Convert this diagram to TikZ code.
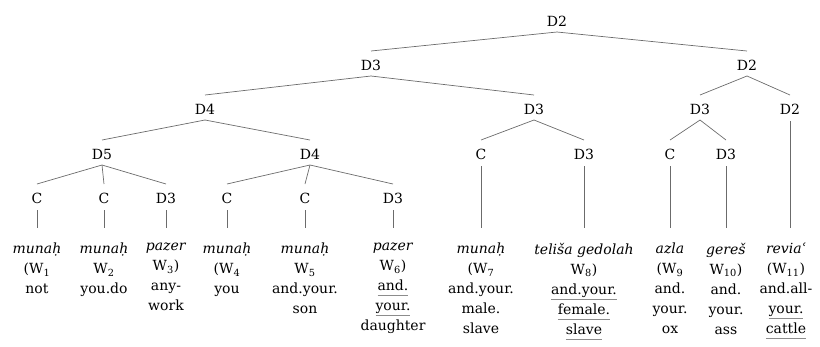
\documentclass[tikz,border=0pt]{standalone}
\usepackage{fontspec}
\setmainfont{DejaVu Serif}
\definecolor{edgegray}{gray}{0.42}
\definecolor{ulgray}{gray}{0.55}
% gray underline used for the marked glosses
\newcommand\ulx[1]{\setbox0=\hbox{#1}\leavevmode\rlap{\textcolor{ulgray}{\rule[-5.2pt]{\wd0}{0.8pt}}}\box0}
\tikzset{
  cat/.style={font=\fontsize{14}{20}\selectfont, inner sep=0pt},
  leaf/.style={font=\fontsize{14}{20}\selectfont, align=center, anchor=north, inner sep=0pt},
  edge/.style={draw=edgegray, line width=0.7pt},
}
% branch from a category label down to a daughter label
\newcommand\link[2]{\draw[edge] ([yshift=-11pt]#1.center) -- ([yshift=14pt]#2.center);}
% vertical stem from a pre-terminal label down to its word
\newcommand\stem[2]{\draw[edge] ([yshift=-12pt]#1.center) -- ([yshift=15pt]#1.center |- #2.north);}
\begin{document}
\begin{tikzpicture}[x=1pt,y=-1pt]
\useasboundingbox (0,0) rectangle (820,346);
% category labels
\node[cat] (root) at (557,21) {D2};
\node[cat] (d3a) at (371,65) {D3};
\node[cat] (d2a) at (747,65) {D2};
\node[cat] (d4a) at (205,109) {D4};
\node[cat] (d3b) at (534,109) {D3};
\node[cat] (d3c) at (700,109) {D3};
\node[cat] (d2b) at (790,109) {D2};
\node[cat] (d5) at (102,154) {D5};
\node[cat] (d4b) at (310,154) {D4};
\node[cat] (c7) at (481,154) {C};
\node[cat] (d38) at (584,154) {D3};
\node[cat] (c9) at (670,154) {C};
\node[cat] (d310) at (726,154) {D3};
\node[cat] (c1) at (37,198) {C};
\node[cat] (c2) at (104,198) {C};
\node[cat] (d33) at (166,198) {D3};
\node[cat] (c4) at (227,198) {C};
\node[cat] (c5) at (305,198) {C};
\node[cat] (d36) at (393,198) {D3};
% words with accents and glosses
\node[leaf] (w1) at (37,243) {\textit{munaḥ}\\(W\textsubscript{1}\\not};
\node[leaf] (w2) at (104,243) {\textit{munaḥ}\\W\textsubscript{2}\\you.do};
\node[leaf] (w3) at (166,243) {\textit{pazer}\\W\textsubscript{3})\\any-\\work};
\node[leaf] (w4) at (227,243) {\textit{munaḥ}\\(W\textsubscript{4}\\you};
\node[leaf] (w5) at (305,243) {\textit{munaḥ}\\W\textsubscript{5}\\and.your.\\son};
\node[leaf] (w6) at (393,243) {\textit{pazer}\\W\textsubscript{6})\\\ulx{and.}\\\ulx{your.}\\daughter};
\node[leaf] (w7) at (481,243) {\textit{munaḥ}\\(W\textsubscript{7}\\and.your.\\male.\\slave};
\node[leaf] (w8) at (584,243) {\textit{teliša gedolah}\\W\textsubscript{8})\\\ulx{and.your.}\\\ulx{female.}\\\ulx{slave}};
\node[leaf] (w9) at (670,243) {\textit{azla}\\(W\textsubscript{9}\\and.\\your.\\ox};
\node[leaf] (w10) at (726,243) {\textit{gereš}\\W\textsubscript{10})\\and.\\your.\\ass};
\node[leaf] (w11) at (786,243) {\textit{reviaʿ}\\(W\textsubscript{11})\\and.all-\\\ulx{your.}\\\ulx{cattle}};
% branches
\link{root}{d3a} \link{root}{d2a}
\link{d3a}{d4a} \link{d3a}{d3b}
\link{d2a}{d3c} \link{d2a}{d2b}
\link{d4a}{d5} \link{d4a}{d4b}
\link{d3b}{c7} \link{d3b}{d38}
\link{d3c}{c9} \link{d3c}{d310}
\link{d5}{c1} \link{d5}{c2} \link{d5}{d33}
\link{d4b}{c4} \link{d4b}{c5} \link{d4b}{d36}
% stems to the words
\stem{c1}{w1} \stem{c2}{w2} \stem{d33}{w3}
\stem{c4}{w4} \stem{c5}{w5} \stem{d36}{w6}
\stem{c7}{w7} \stem{d38}{w8} \stem{c9}{w9}
\stem{d310}{w10} \stem{d2b}{w11}
\end{tikzpicture}
\end{document}
